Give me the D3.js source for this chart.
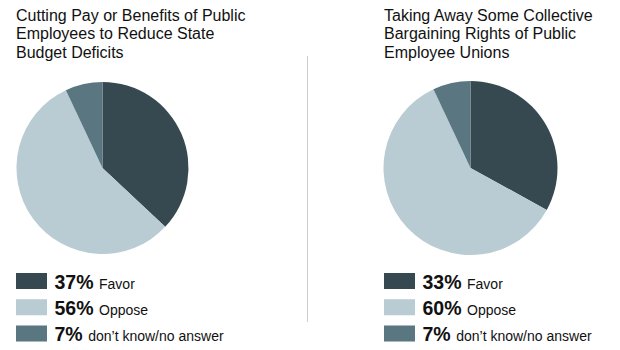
<!DOCTYPE html>
<html>
<head>
<meta charset="utf-8">
<script src="https://cdn.jsdelivr.net/npm/d3@7/dist/d3.min.js"></script>
<style>
  html, body { margin: 0; padding: 0; background: #fff; }
  svg { display: block; font-family: "Liberation Sans", Arial, sans-serif; }
</style>
</head>
<body>
<svg id="chart" width="620" height="350"></svg>
<script>
// Survey results: two questions, three answers each
const categories = ["Favor", "Oppose", "don\u2019t know/no answer"];
const titles = [
  ["Cutting Pay or Benefits of Public", "Employees to Reduce State", "Budget Deficits"],
  ["Taking Away Some Collective", "Bargaining Rights of Public", "Employee Unions"]
];
const payValues = [37, 56, 7];
const bargainingValues = [33, 60, 7];
const colors = ["#364950", "#b9cbd3", "#5a7680"];

const series = [payValues, bargainingValues];

const svg = d3.select("#chart");
const color = d3.scaleOrdinal().domain(categories).range(colors);

const panels = [
  { x: 16, cx: 102.5, cy: 168, r: 86 },
  { x: 384, cx: 470.5, cy: 168, r: 87 }
];

const pie = d3.pie().sort(null).value(d => d.value);

// vertical divider between the two panels
svg.append("line")
  .attr("x1", 307.5).attr("x2", 307.5)
  .attr("y1", 56).attr("y2", 322)
  .attr("stroke", "#cccccc").attr("stroke-width", 1);

series.forEach((vals, i) => {
  const p = panels[i];
  const g = svg.append("g");

  // title
  const t = g.append("text").attr("font-size", 16).attr("fill", "#111");
  titles[i].forEach((line, j) => {
    t.append("tspan").attr("x", p.x).attr("y", 20.7 + j * 18.5).text(line);
  });

  // pie
  const data = categories.map((c, k) => ({ cat: c, value: vals[k] }));
  const arc = d3.arc().innerRadius(0).outerRadius(p.r);
  g.append("g")
    .attr("transform", `translate(${p.cx},${p.cy})`)
    .selectAll("path")
    .data(pie(data))
    .join("path")
    .attr("d", arc)
    .attr("fill", d => color(d.data.cat));

  // legend
  const rowY = d3.scalePoint().domain(categories).range([273, 325.5]);
  const rows = g.selectAll("g.row").data(data).join("g")
    .attr("class", "row")
    .attr("transform", d => `translate(${p.x},${rowY(d.cat)})`);
  rows.append("rect")
    .attr("width", 31).attr("height", 16)
    .attr("fill", d => color(d.cat));
  const lt = rows.append("text").attr("x", 38.5).attr("y", 15.7).attr("fill", "#111");
  lt.append("tspan")
    .attr("font-size", 19.5).attr("font-weight", "bold")
    .text(d => d.value + "%");
  lt.append("tspan")
    .attr("font-size", 14).attr("dx", 5.5)
    .text(d => d.cat);
});
</script>
</body>
</html>
